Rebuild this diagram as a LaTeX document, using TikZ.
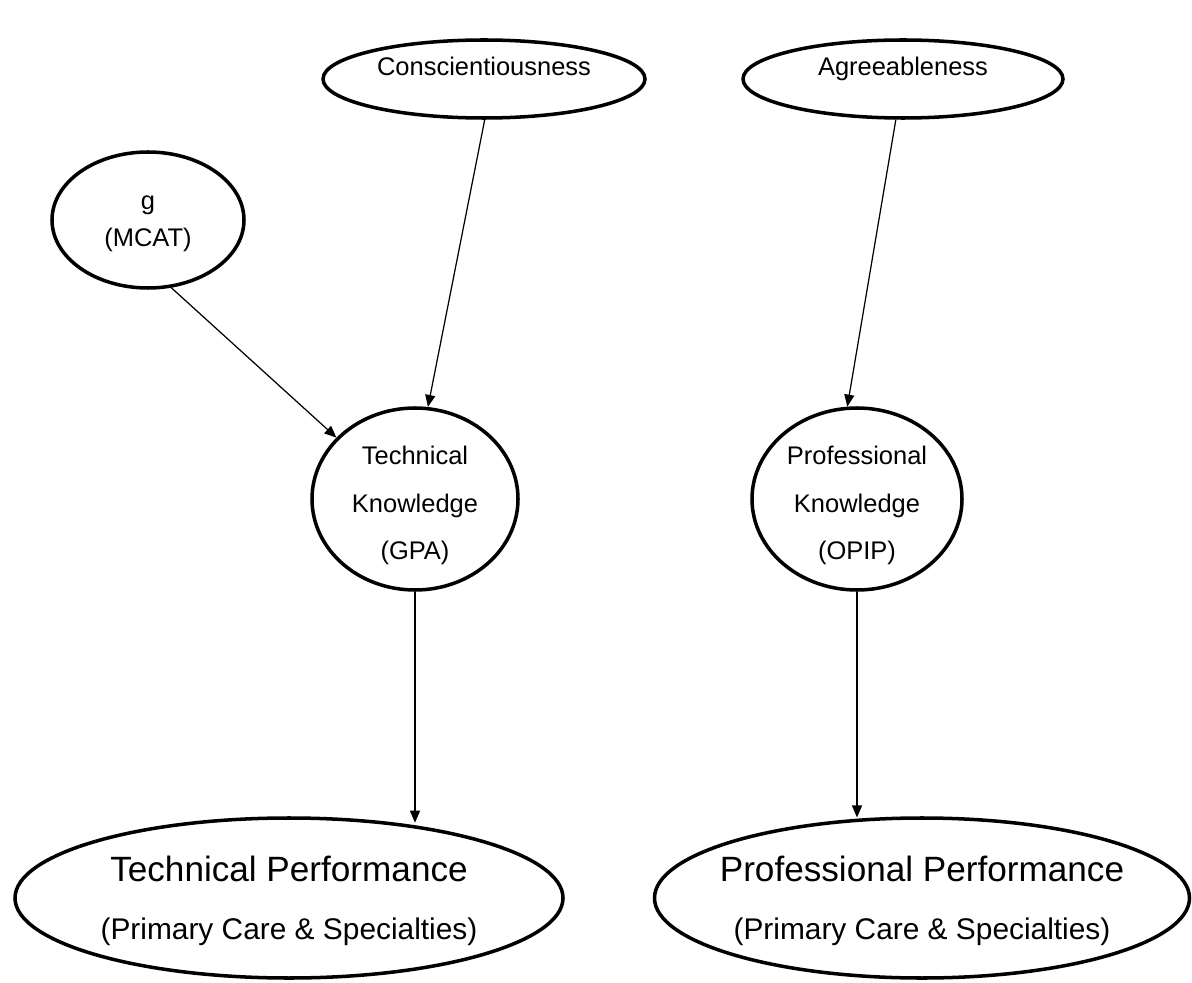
\documentclass[tikz,border=0pt]{standalone}
\usepackage{fontspec}
\setmainfont{Liberation Sans}
\usetikzlibrary{arrows.meta,shapes.geometric}

\begin{document}
\begin{tikzpicture}[x=0.2mm,y=-0.2mm,oval/.style={draw,ellipse,line width=2pt,inner sep=0pt,align=center},small/.style={oval,font=\fontsize{14.5}{27}\selectfont},big/.style={oval,inner xsep=-3mm,font=\fontsize{17}{33}\selectfont,text depth=-10pt},arr/.style={-{Triangle[length=2.4mm,width=2mm]},line width=0.7pt}]
\useasboundingbox (0,0) rectangle (1192,983);
\node[small,minimum width=64.4mm,minimum height=15.6mm,text depth=5mm] (consc) at (484,79) {Conscientiousness};
\node[small,minimum width=64mm,minimum height=15.6mm,text depth=5mm] (agree) at (903,79) {Agreeableness};
\node[small,minimum width=38.4mm,minimum height=27.2mm,font=\fontsize{14.5}{21}\selectfont,text height=33pt,text depth=3pt] (g) at (148,220) {g\\(MCAT)};
\node[small,minimum width=41.2mm,minimum height=36.4mm,inner ysep=-1mm,text height=72pt,text depth=3pt] (tk) at (415,499) {Technical\\Knowledge\\(GPA)};
\node[small,minimum width=42mm,minimum height=36.4mm,inner ysep=-1mm,text height=72pt,text depth=3pt] (pk) at (857,499) {Professional\\Knowledge\\(OPIP)};
\node[big,minimum width=109.6mm,minimum height=32mm] (tp) at (289,898) {{\fontsize{20}{33}\selectfont Technical Performance}\\(Primary Care \& Specialties)};
\node[big,minimum width=107mm,minimum height=32mm] (pp) at (922,898) {{\fontsize{20}{33}\selectfont Professional Performance}\\(Primary Care \& Specialties)};
\draw[arr] (g.-71)--(tk.142);\draw[arr] (consc.-89)--(tk.82);\draw[arr] (agree.-100)--(pk.96);
\draw[arr] (tk.south)--(tk.south |- tp.145);\draw[arr] (pk.south)--(pk.south |- pp.120);
\end{tikzpicture}
\end{document}
